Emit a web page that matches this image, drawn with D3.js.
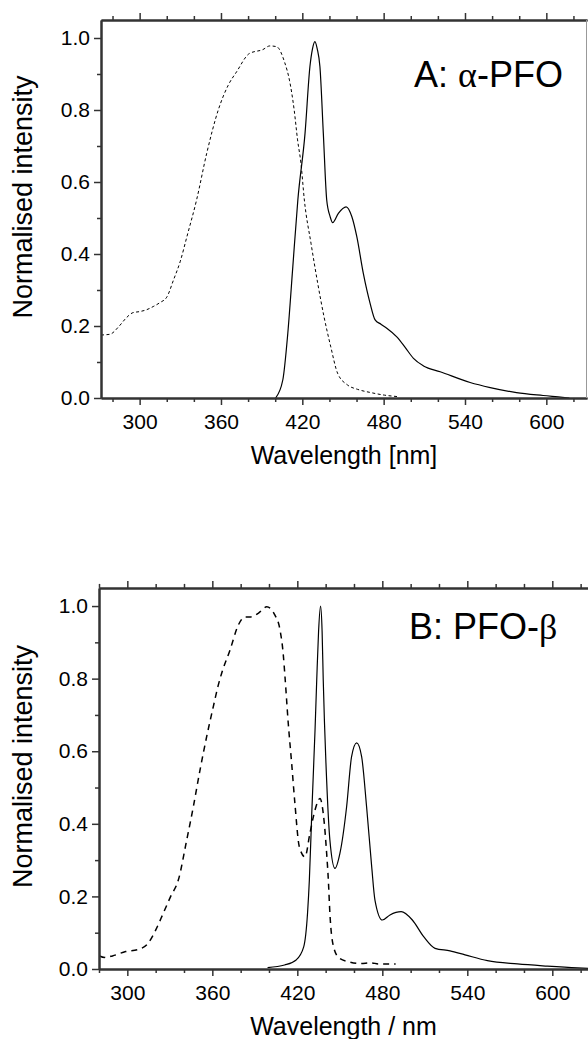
<!DOCTYPE html>
<html>
<head>
<meta charset="utf-8">
<script src="https://cdn.jsdelivr.net/npm/d3@7"></script>
<style>
html,body{margin:0;padding:0;background:#fff;overflow:hidden;}
svg{display:block;font-family:"Liberation Sans",Arial,sans-serif;}
</style>
</head>
<body>
<svg id="chart" width="588" height="1039"></svg>
<script>
// ---------- DATA ----------
const xMajorTicks = [300, 360, 420, 480, 540, 600];
const xMinorTicks = [280, 320, 340, 380, 400, 440, 460, 500, 520, 560, 580, 620];
const yMajorTicks = [0, 0.2, 0.4, 0.6, 0.8, 1.0];
const yMinorTicks = [0.1, 0.3, 0.5, 0.7, 0.9];

// Panel A: alpha-PFO
const aAbsWl = [271.5,278,285,290,295,300,305,310,315,320,325,330,335,342,349.5,358,365.5,371.5,381,391,396,401,407,410.5,414,416.5,419,421.5,426.4,431.3,436,441,446,453.4,460.8,470.6,480.5,490];
const aAbsI  = [0.175,0.177,0.2,0.222,0.237,0.24,0.245,0.254,0.265,0.28,0.328,0.38,0.45,0.55,0.68,0.80,0.87,0.906,0.957,0.968,0.978,0.976,0.932,0.883,0.80,0.717,0.652,0.55,0.43,0.32,0.226,0.142,0.069,0.036,0.024,0.015,0.008,0.004];
const aEmWl = [400.3,405.6,409.3,413,416.7,422,425.6,427.5,429.3,431,433,435.5,438,440.5,442.4,446.6,452.3,456.5,460.2,465,470,473.7,478,482.3,489.7,496,502,509.4,521.7,543.8,558.6,578,597.6,612,617];
const aEmI  = [0,0.05,0.18,0.365,0.55,0.735,0.92,0.97,0.99,0.97,0.92,0.735,0.55,0.504,0.487,0.513,0.531,0.504,0.448,0.346,0.263,0.217,0.205,0.194,0.17,0.14,0.11,0.089,0.073,0.043,0.029,0.015,0.007,0.002,0];

// Panel B: PFO-beta
const bAbsWl = [280.3,284,289.5,298.8,308,314.7,320,325.3,330.6,336,341.9,346.6,351.3,356,360.7,364.2,366.6,372.5,378.4,383,386.6,392.4,398.4,404.2,407.8,410,411.3,413.6,416,418.3,421.4,425.4,428.9,432.5,436,438.3,440.7,441.9,443,445.6,449.6,456.2,464.2,472.1,477.4,489.4];
const bAbsI  = [0.036,0.032,0.036,0.048,0.054,0.071,0.107,0.153,0.2,0.245,0.355,0.447,0.548,0.64,0.723,0.782,0.815,0.879,0.948,0.97,0.97,0.98,0.998,0.975,0.934,0.87,0.805,0.677,0.567,0.456,0.337,0.309,0.374,0.438,0.47,0.429,0.319,0.245,0.153,0.061,0.03,0.02,0.015,0.017,0.014,0.014];
const bEmWl = [399,411,419.2,424.5,427.2,428.5,430.2,432.5,433.7,435,436.4,437.5,438.3,440.7,443,446.6,450.1,454.8,458.3,461.9,465.4,468.9,472.5,474.8,480,485.4,493.3,501.2,509.2,517.2,527.8,538.4,554.2,575.4,596.5,617.7,630];
const bEmI  = [0.004,0.011,0.025,0.061,0.153,0.245,0.429,0.658,0.796,0.93,1.0,0.93,0.796,0.52,0.355,0.277,0.319,0.447,0.585,0.623,0.585,0.447,0.282,0.19,0.135,0.149,0.158,0.135,0.089,0.057,0.05,0.039,0.023,0.014,0.008,0.003,0.001];

// panel labels: [before greek, greek, after greek]
const panelLabels = [["A: ", "\u03B1", "-PFO"], ["B: PFO-", "\u03B2", ""]];
const xTitles = ["Wavelength [nm]", "Wavelength / nm"];
const yTitle = "Normalised intensity";

// ---------- LAYOUT ----------
const svg = d3.select("#chart");
const panels = [
  {xDom:[271.5,630], xRange:[101,587], yRange:[398,20], absWl:aAbsWl, absI:aAbsI, emWl:aEmWl, emI:aEmI,
   dash:"3,2.5", dashW:1, label:panelLabels[0], labelX:414, labelY:87, xTitle:xTitles[0], rightBorder:true},
  {xDom:[280,630], xRange:[99,594.8], yRange:[969,587.9], absWl:bAbsWl, absI:bAbsI, emWl:bEmWl, emI:bEmI,
   dash:"6,5", dashW:1.5, label:panelLabels[1], labelX:409, labelY:639, xTitle:xTitles[1], rightBorder:false}
];

panels.forEach(p => {
  const x = d3.scaleLinear().domain(p.xDom).range(p.xRange);
  const y = d3.scaleLinear().domain([0,1.05]).range(p.yRange);
  const g = svg.append("g");
  const x0 = p.xRange[0], x1 = p.xRange[1], yb = p.yRange[0], yt = p.yRange[1];

  const cid = "clip" + Math.round(yb);
  svg.append("clipPath").attr("id", cid).append("rect")
    .attr("x", x0).attr("y", yt).attr("width", x1 - x0).attr("height", yb - yt);

  const line = d3.line().x(d => x(d[0])).y(d => y(d[1])).curve(d3.curveMonotoneX);
  const absData = p.absWl.map((w,i) => [w, p.absI[i]]);
  const emData = p.emWl.map((w,i) => [w, p.emI[i]]);
  g.append("path").datum(absData).attr("clip-path", `url(#${cid})`)
    .attr("d", line).attr("fill","none").attr("stroke","#000")
    .attr("stroke-width", p.dashW).attr("stroke-dasharray", p.dash);
  g.append("path").datum(emData).attr("clip-path", `url(#${cid})`)
    .attr("d", line).attr("fill","none").attr("stroke","#000").attr("stroke-width", 1.2);

  const styleAxis = sel => {
    sel.select(".domain").attr("stroke","#333").attr("stroke-width",2);
    sel.selectAll(".tick line").attr("stroke","#333").attr("stroke-width",1.5);
    sel.selectAll(".tick text").attr("fill","#000").style("font-size","21px")
      .style("font-family",'"Liberation Sans",Arial,sans-serif');
  };

  g.append("g").attr("transform",`translate(0,${yb})`)
    .call(d3.axisBottom(x).tickValues(xMinorTicks).tickSize(4).tickFormat("").tickSizeOuter(0))
    .call(styleAxis);
  g.append("g").attr("transform",`translate(0,${yb})`)
    .call(d3.axisBottom(x).tickValues(xMajorTicks).tickSize(7).tickPadding(9).tickFormat(d3.format("d")).tickSizeOuter(0))
    .call(styleAxis);
  g.append("g").attr("transform",`translate(0,${yt})`)
    .call(d3.axisTop(x).tickValues(xMinorTicks).tickSize(4).tickFormat("").tickSizeOuter(0))
    .call(styleAxis);
  g.append("g").attr("transform",`translate(0,${yt})`)
    .call(d3.axisTop(x).tickValues(xMajorTicks).tickSize(7).tickFormat("").tickSizeOuter(0))
    .call(styleAxis);
  g.append("g").attr("transform",`translate(${x0},0)`)
    .call(d3.axisLeft(y).tickValues(yMinorTicks).tickSize(4).tickFormat("").tickSizeOuter(0))
    .call(styleAxis);
  g.append("g").attr("transform",`translate(${x0},0)`)
    .call(d3.axisLeft(y).tickValues(yMajorTicks).tickSize(7).tickPadding(4).tickFormat(d3.format(".1f")).tickSizeOuter(0))
    .call(styleAxis);
  if (p.rightBorder) {
    g.append("line").attr("x1",x1-0.5).attr("x2",x1-0.5).attr("y1",yt).attr("y2",yb)
      .attr("stroke","#999").attr("stroke-width",1);
  }

  const lbl = g.append("text").attr("x",p.labelX).attr("y",p.labelY)
    .style("font-size","36px").attr("fill","#000");
  lbl.append("tspan").text(p.label[0]);
  lbl.append("tspan").style("font-family",'"Liberation Serif","DejaVu Serif",serif').text(p.label[1]);
  if (p.label[2]) lbl.append("tspan").text(p.label[2]);

  g.append("text").attr("x",(x0 + Math.min(x1,588))/2).attr("y", yb + 66)
    .attr("text-anchor","middle").style("font-size","25px").attr("fill","#000").text(p.xTitle);
  g.append("text").attr("transform",`translate(32,${(yb+yt)/2 - 12}) rotate(-90)`)
    .attr("text-anchor","middle").style("font-size","27px").attr("fill","#000").text(yTitle);
});
</script>
</body>
</html>
